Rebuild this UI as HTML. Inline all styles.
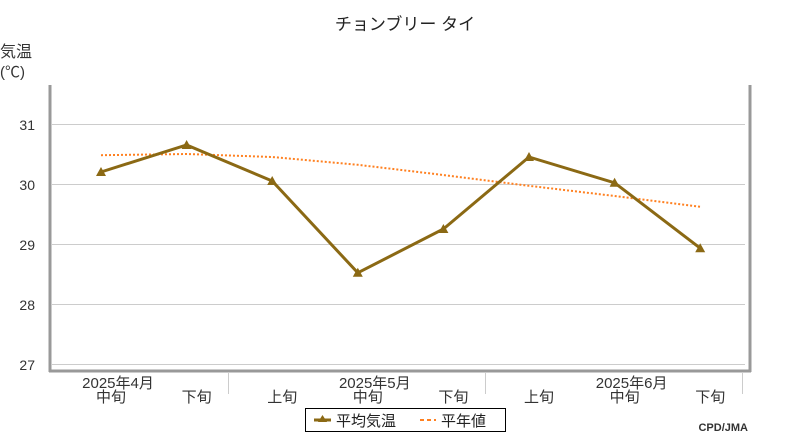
<!DOCTYPE html>
<html><head><meta charset="utf-8">
<style>
body{margin:0;background:#fff;}
svg text{font-family:"Liberation Sans","Noto Sans CJK JP",sans-serif;}
</style></head><body>
<svg width="800" height="440" viewBox="0 0 800 440">
<text x="405" y="30" text-anchor="middle" font-size="17" fill="#222">チョンブリー タイ</text>
<text x="0" y="57" font-size="16" fill="#333">気温</text>
<text x="0" y="77" font-size="15" fill="#333">(℃)</text>
<g id="grid"></g>
<g id="yticks"></g>
<line x1="50" y1="85" x2="50" y2="372" stroke="#999" stroke-width="3"/>
<line x1="750" y1="85" x2="750" y2="372" stroke="#999" stroke-width="3"/>
<line x1="49" y1="371" x2="751" y2="371" stroke="#999" stroke-width="3"/>
<g id="xlabels"></g>
<g id="normal"></g>
<g id="avg"></g>
<g>
<rect x="305.5" y="408.5" width="200" height="23" fill="#fff" stroke="#000"/>
<g>
<line x1="314" y1="420" x2="331" y2="420" stroke="#8B6914" stroke-width="3"/>
<path d="M322.5,415 L327,422 L318,422Z" fill="#8B6914"/>
<text x="336" y="426" font-size="15" fill="#222">平均気温</text></g>
<g>
<line x1="420" y1="420" x2="436" y2="420" stroke="#ff8020" stroke-width="2" stroke-dasharray="4,3"/>
<text x="441" y="426" font-size="15" fill="#222">平年値</text></g>
</g>
<text x="748" y="431" text-anchor="end" font-size="11" font-weight="bold" fill="#333" font-family="Liberation Mono, monospace">CPD/JMA</text>
</svg>
<script>
const yTicks=[27,28,29,30,31];
const dekads=["中旬","下旬","上旬","中旬","下旬","上旬","中旬","下旬"];
const monthLabels=["2025年4月","","","2025年5月","","","2025年6月",""];
const avgTemp=[30.2,30.65,30.05,28.52,29.25,30.45,30.02,28.93];
const normalTemp=[30.48,30.5,30.45,30.32,30.15,29.97,29.8,29.62];
const NS="http://www.w3.org/2000/svg";
const yS=v=>364-(v-27)*60;
const xS=i=>101+i*85.6;
function mk(t,a,p){const e=document.createElementNS(NS,t);for(const k in a)e.setAttribute(k,a[k]);p.appendChild(e);return e;}
const grid=document.getElementById('grid'),yt=document.getElementById('yticks');
yTicks.forEach(v=>{
 const l=mk('line',{x1:52,x2:745,y1:yS(v)+0.5,y2:yS(v)+0.5,stroke:'#ccc'},grid);
 
 
 const t=mk('text',{x:35,y:yS(v)+6,'text-anchor':'end','font-size':'14',fill:'#333'},yt);
 t.textContent=v;
 
 
});
const xl=document.getElementById('xlabels');
[228,485,742].forEach(x=>{const l=mk('line',{x1:x+.5,x2:x+.5,y1:373,y2:394,stroke:'#ccc'},xl);
 
 });
dekads.forEach((d,i)=>{
 const t=mk('text',{x:xS(i)+10,y:402,'text-anchor':'middle','font-size':'15',fill:'#333'},xl);
 t.textContent=d;
 
 
 if(monthLabels[i]){const m=mk('text',{x:xS(i)+17,y:388,'text-anchor':'middle','font-size':'15',fill:'#333'},xl);
 m.textContent=monthLabels[i];
 
 }
});
const ng=document.getElementById('normal');
const np=mk('polyline',{points:normalTemp.map((v,i)=>xS(i)+','+yS(v)).join(' '),fill:'none',stroke:'#ff8020','stroke-width':2,'stroke-dasharray':'2,2'},ng);


const ag=document.getElementById('avg');
const ap=mk('polyline',{points:avgTemp.map((v,i)=>xS(i)+','+yS(v)).join(' '),fill:'none',stroke:'#8B6914','stroke-width':3},ag);


avgTemp.forEach((v,i)=>{const x=xS(i),y=yS(v);
 const p=mk('path',{d:`M${x},${y-5} L${x+5},${y+4} L${x-5},${y+4}Z`,fill:'#8B6914'},ag);
 
 });
</script>
</body></html>
